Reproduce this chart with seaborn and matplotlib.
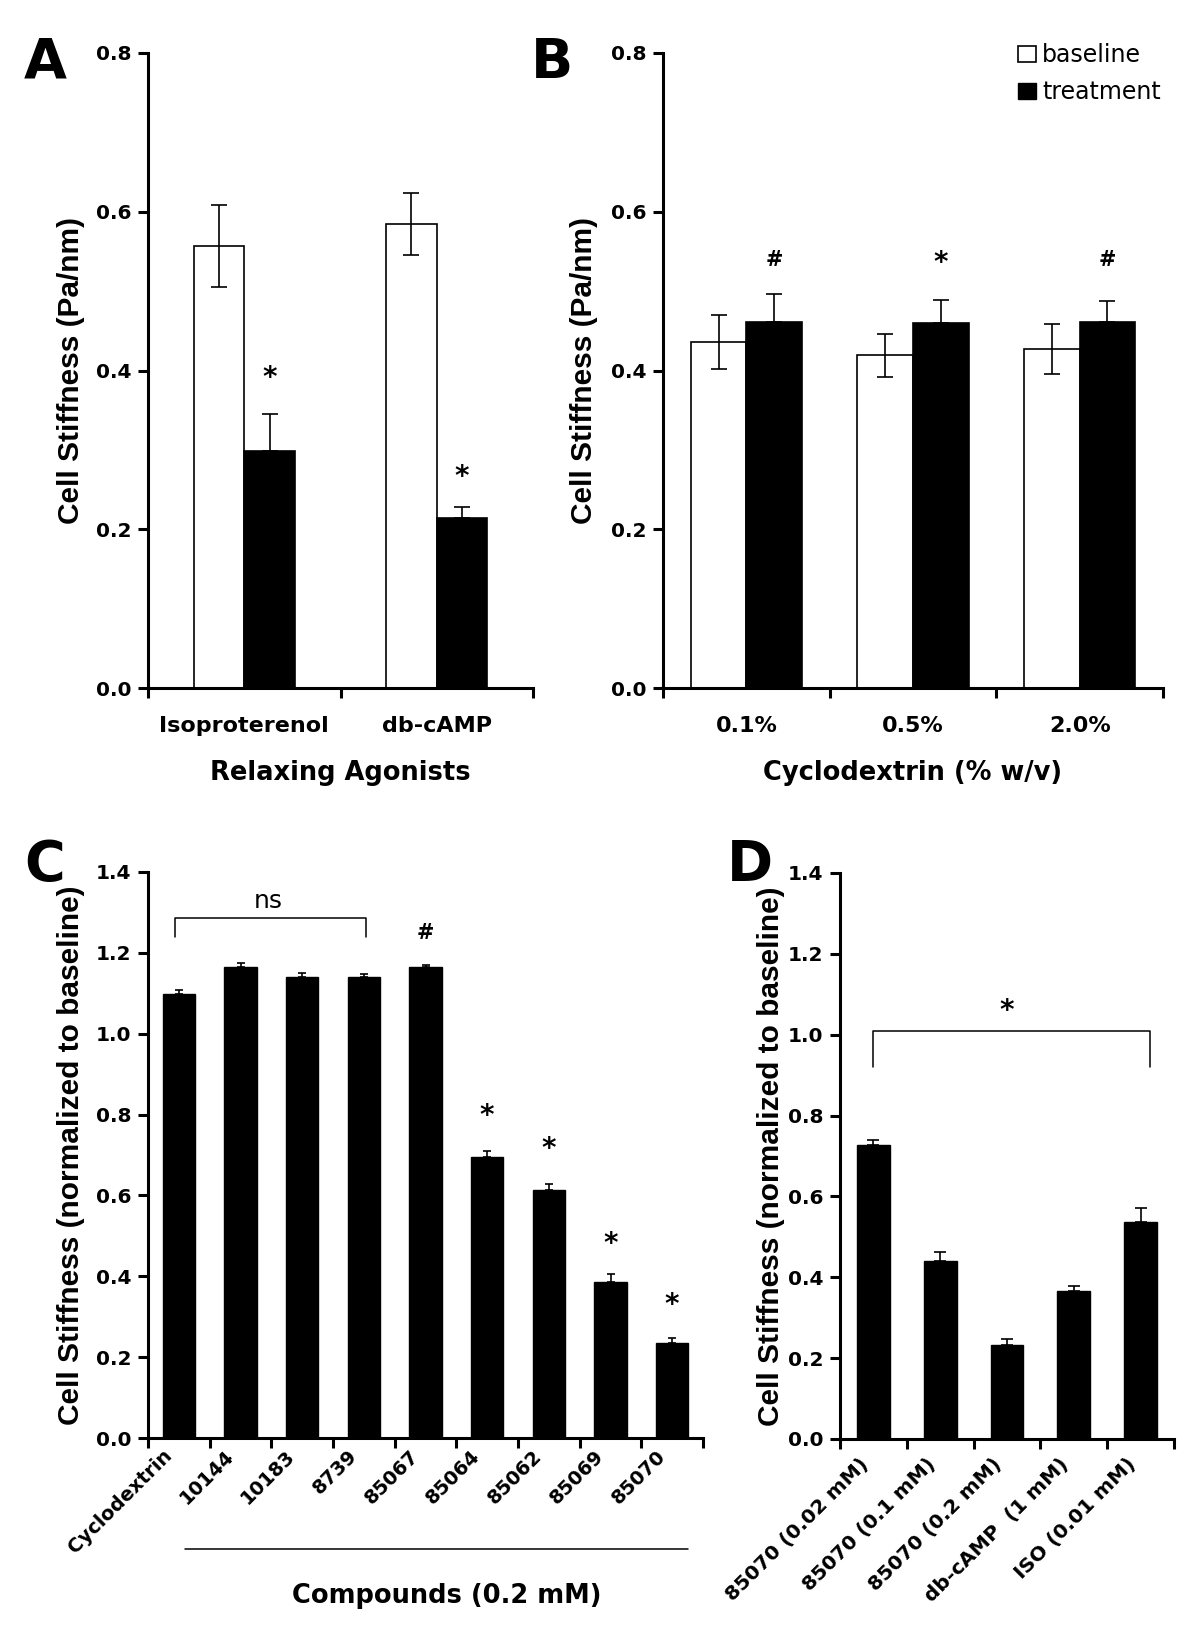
import numpy as np
import pandas as pd
import matplotlib
matplotlib.use('Agg')
import matplotlib.pyplot as plt
import matplotlib.transforms as mtransforms
from matplotlib.patches import Patch
import seaborn as sns

# ---- panel A : relaxing agonists
agonists = ['Isoproterenol', 'db-cAMP']
a_base = [0.557, 0.584]
a_base_err = [0.052, 0.039]
a_treat = [0.299, 0.214]
a_treat_err = [0.046, 0.014]
a_marks = ['*', '*']
a_mark_y = [0.391, 0.266]

# ---- panel B : cyclodextrin
cd_levels = ['0.1%', '0.5%', '2.0%']
b_base = [0.436, 0.419, 0.427]
b_base_err = [0.034, 0.027, 0.031]
b_treat = [0.461, 0.460, 0.461]
b_treat_err = [0.035, 0.029, 0.027]
b_marks = ['#', '*', '#']
b_mark_y = [0.539, 0.535, 0.539]

# ---- panel C : compounds (0.2 mM)
compounds = ['Cyclodextrin', '10144', '10183', '8739', '85067',
             '85064', '85062', '85069', '85070']
c_vals = [1.098, 1.165, 1.140, 1.140, 1.165, 0.694, 0.614, 0.386, 0.234]
c_err = [0.010, 0.009, 0.009, 0.008, 0.006, 0.016, 0.015, 0.019, 0.014]
c_marks = ['', '', '', '', '#', '*', '*', '*', '*']
c_mark_y = [0, 0, 0, 0, 1.25, 0.797, 0.715, 0.481, 0.330]

# ---- panel D : dose / reference agonists
d_conds = ['85070 (0.02 mM)', '85070 (0.1 mM)', '85070 (0.2 mM)',
           'db-cAMP  (1 mM)', 'ISO (0.01 mM)']
d_vals = [0.727, 0.441, 0.232, 0.367, 0.537]
d_err = [0.013, 0.021, 0.015, 0.012, 0.034]

sns.set_style('ticks')
plt.rcParams['font.family'] = ['DejaVu Sans']
plt.rcParams.update({'text.color': 'black', 'axes.labelcolor': 'black',
                     'xtick.color': 'black', 'ytick.color': 'black',
                     'axes.edgecolor': 'black'})

W, H = 1200, 1634
fig = plt.figure(figsize=(W / 100, H / 100), dpi=100)


def add_ax(x0, x1, ytop, ybot):
    return fig.add_axes([x0 / W, 1 - ybot / H, (x1 - x0) / W, (ybot - ytop) / H])


def style(ax, n, ymax, labels, ylab, ylab_x, rot=None):
    ax.set_xlim(-0.5, n - 0.5)
    ax.set_ylim(0, ymax)
    yt = np.arange(0, ymax + 1e-9, 0.2)
    ax.set_yticks(yt)
    ax.set_yticklabels([f'{v:.1f}' for v in yt], fontsize=14.5, fontweight='bold')
    ax.set_xticks(np.arange(n + 1) - 0.5)
    ax.set_xticklabels([])
    if rot is None:
        ax.set_xticks(np.arange(n), minor=True)
        ax.set_xticklabels(labels, minor=True, fontsize=16, fontweight='bold')
        ax.tick_params(axis='x', which='minor', length=0, pad=20)
    else:
        # rotated category names, hung under each bar
        fs, dx, dy = rot
        tr = mtransforms.blended_transform_factory(ax.transData, ax.transAxes)
        tr = mtransforms.offset_copy(tr, fig=fig, x=dx, y=dy, units='dots')
        for i, lab in enumerate(labels):
            ax.text(i, 0, lab, transform=tr, rotation=45, ha='right', va='center',
                    rotation_mode='anchor', fontsize=fs, fontweight='bold')
    sns.despine(ax=ax)
    for s in ['left', 'bottom']:
        ax.spines[s].set_linewidth(2.2)
    ax.tick_params(axis='both', which='major', direction='out', length=7, width=2.2)
    ax.tick_params(axis='y', pad=5)
    ax.set_ylabel(ylab, family='Liberation Sans', fontsize=21.5, fontweight='bold')
    ax.yaxis.set_label_coords(ylab_x, 0.5)
    ax.yaxis.label.set_va('center')
    ax.set_xlabel('')


def grouped(ax, cats, base, base_err, treat, treat_err, width, cap):
    df = pd.DataFrame({'cat': cats * 2,
                       'val': base + treat,
                       'cond': ['baseline'] * len(cats) + ['treatment'] * len(cats)})
    sns.barplot(data=df, x='cat', y='val', hue='cond', order=cats,
                hue_order=['baseline', 'treatment'],
                palette={'baseline': 'white', 'treatment': 'black'},
                edgecolor='black', linewidth=1.2, width=width, errorbar=None,
                legend=False, ax=ax)
    cont_b, cont_t = ax.containers[0], ax.containers[1]
    xb = [b.get_x() + b.get_width() / 2 for b in cont_b]
    xt = [b.get_x() + b.get_width() / 2 for b in cont_t]
    ax.errorbar(xb, base, yerr=base_err, fmt='none', ecolor='black',
                elinewidth=1.2, capsize=cap, capthick=1.2, zorder=5)
    ax.errorbar(xt, treat, yerr=[np.zeros(len(treat)), treat_err], fmt='none',
                ecolor='black', elinewidth=1.2, capsize=cap, capthick=1.2, zorder=5)
    return xt


def single(ax, cats, vals, err, width, cap):
    sns.barplot(x=cats, y=vals, order=cats, color='black', edgecolor='black',
                linewidth=1, width=width, errorbar=None, ax=ax)
    xs = [b.get_x() + b.get_width() / 2 for b in ax.containers[0]]
    ax.errorbar(xs, vals, yerr=[np.zeros(len(vals)), err], fmt='none',
                ecolor='black', elinewidth=1.2, capsize=cap, capthick=1.2, zorder=5)
    return xs


# ---------- A
ax_a = add_ax(148, 533, 53, 688)
xt = grouped(ax_a, agonists, a_base, a_base_err, a_treat, a_treat_err, 0.525, 5.8)
style(ax_a, 2, 0.8, agonists, 'Cell Stiffness (Pa/nm)', -0.2)
for x, m, y in zip(xt, a_marks, a_mark_y):
    ax_a.text(x, y, m, ha='center', va='center', fontsize=20, fontweight='bold')
ax_a.set_xlabel('Relaxing Agonists', fontsize=18.5, fontweight='bold')
ax_a.xaxis.set_label_coords(0.5, -0.134)
ax_a.xaxis.label.set_va('center')

# ---------- B
ax_b = add_ax(663, 1163, 53, 688)
xt = grouped(ax_b, cd_levels, b_base, b_base_err, b_treat, b_treat_err, 0.667, 5.8)
style(ax_b, 3, 0.8, cd_levels, 'Cell Stiffness (Pa/nm)', -0.158)
for x, m, y in zip(xt, b_marks, b_mark_y):
    ax_b.text(x, y, m, ha='center', va='center',
              fontsize=20 if m == '*' else 15, fontweight='bold')
ax_b.set_xlabel('Cyclodextrin (% w/v)', fontsize=18.5, fontweight='bold')
ax_b.xaxis.set_label_coords(0.5, -0.134)
ax_b.xaxis.label.set_va('center')
handles = [Patch(facecolor='white', edgecolor='black', linewidth=1.2, label='baseline'),
           Patch(facecolor='black', edgecolor='black', label='treatment')]
ax_b.legend(handles=handles, loc='upper left', bbox_to_anchor=(1018 / W, 1 - 43 / H),
            bbox_transform=fig.transFigure, frameon=False, fontsize=17,
            handlelength=0.78, handleheight=0.65, handletextpad=0.25,
            labelspacing=0.55, borderpad=0, borderaxespad=0)

# ---------- C
ax_c = add_ax(148, 703, 872, 1438)
xs = single(ax_c, compounds, c_vals, c_err, 0.52, 3.2)
style(ax_c, 9, 1.4, compounds, 'Cell Stiffness (normalized to baseline)', -0.139,
      rot=(14, -10, -15))
for x, m, y in zip(xs, c_marks, c_mark_y):
    if m:
        ax_c.text(x, y, m, ha='center', va='center',
                  fontsize=20 if m == '*' else 15, fontweight='bold')
ax_c.plot([-0.06, -0.06, 3.04, 3.04], [1.239, 1.286, 1.286, 1.239],
          color='black', lw=1.1)
ax_c.text(1.45, 1.311, 'ns', ha='center', va='baseline', fontsize=18)
tr = mtransforms.blended_transform_factory(ax_c.transData, ax_c.transAxes)
ax_c.plot([0.1, 8.25], [-0.196, -0.196], transform=tr, color='black', lw=1.1,
          clip_on=False)
ax_c.text(0.539, -0.279, 'Compounds (0.2 mM)', transform=ax_c.transAxes,
          ha='center', va='center', fontsize=18.5, fontweight='bold')

# ---------- D
ax_d = add_ax(840, 1174, 873, 1439)
xs = single(ax_d, d_conds, d_vals, d_err, 0.49, 4.3)
style(ax_d, 5, 1.4, d_conds, 'Cell Stiffness (normalized to baseline)', -0.207,
      rot=(14.5, -8, -22))
ax_d.plot([-0.01, -0.01, 4.14, 4.14], [0.919, 1.010, 1.010, 0.919],
          color='black', lw=1.1)
ax_d.text(2.0, 1.058, '*', ha='center', va='center', fontsize=20, fontweight='bold')

# panel letters
for lab, x, y in [('A', 45, 78), ('B', 552, 78), ('C', 45, 880), ('D', 750, 880)]:
    fig.text(x / W, 1 - y / H, lab, ha='center', va='baseline',
             fontsize=40, fontweight='bold')

fig.savefig('out.png', dpi=100, facecolor='white')
